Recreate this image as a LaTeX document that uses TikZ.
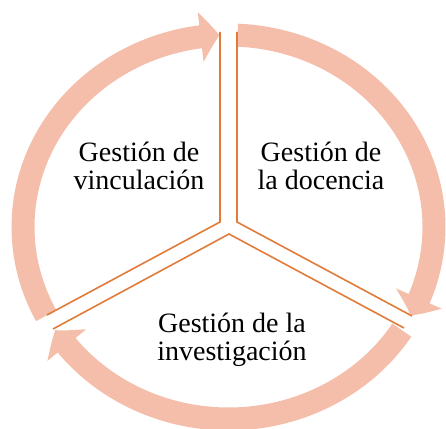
\documentclass[tikz,border=0pt]{standalone}
\usepackage{fontspec}
\setmainfont{Liberation Serif}
\usetikzlibrary{arrows.meta, bending}
\usepackage{xcolor}
\definecolor{ringfill}{HTML}{F4BEAA}
\definecolor{lineorange}{HTML}{E07B39}

\begin{document}
\begin{tikzpicture}[
x=1pt, y=1pt,
ringarrow/.style={draw=ringfill, 
line width=23pt, 
-{Triangle[length=19pt, width=49pt, bend]}}, 
sepline/.style={draw=lineorange, line width=1.6pt, line join=miter}, 
gestion/.style={align=center, 
inner sep=0pt, 
anchor=base, 
font=\fontsize{28}{28}\selectfont}
]
\useasboundingbox (0,0) rectangle (446,428);

\coordinate (ctr) at (228.5,201);

% ring of arrows
\draw[ringarrow] (ctr) ++(207.5:205.5 and 192) arc[start angle=207.5, end angle=92.5, x radius=205.5, y radius=192];
\draw[ringarrow] (ctr) ++(87.5:205.5 and 192) arc[start angle=87.5, end angle=-27.5, x radius=205.5, y radius=192];
\draw[ringarrow] (ctr) ++(-32.5:205.5 and 192) arc[start angle=-32.5, end angle=-147.5, x radius=205.5, y radius=192];

% separators
\coordinate (tlTop) at (220,396);
\coordinate (tlIn) at (220,206);
\coordinate (tlEnd) at (47,113);
\coordinate (trTop) at (237,396);
\coordinate (trIn) at (237,206);
\coordinate (trEnd) at (412,112);
\coordinate (bL) at (53,99);
\coordinate (bIn) at (229,194);
\coordinate (bR) at (404,100);

\draw[sepline] (tlTop) -- (tlIn) -- (tlEnd);
\draw[sepline] (trTop) -- (trIn) -- (trEnd);
\draw[sepline] (bL) -- (bIn) -- (bR);

\node[gestion] (vinc) at (139,238) {Gestión de\\vinculación};
\node[gestion] (doc) at (321,238) {Gestión de\\la docencia};
\node[gestion] (inv) at (232,68) {Gestión de la\\investigación};

\end{tikzpicture}
\end{document}
